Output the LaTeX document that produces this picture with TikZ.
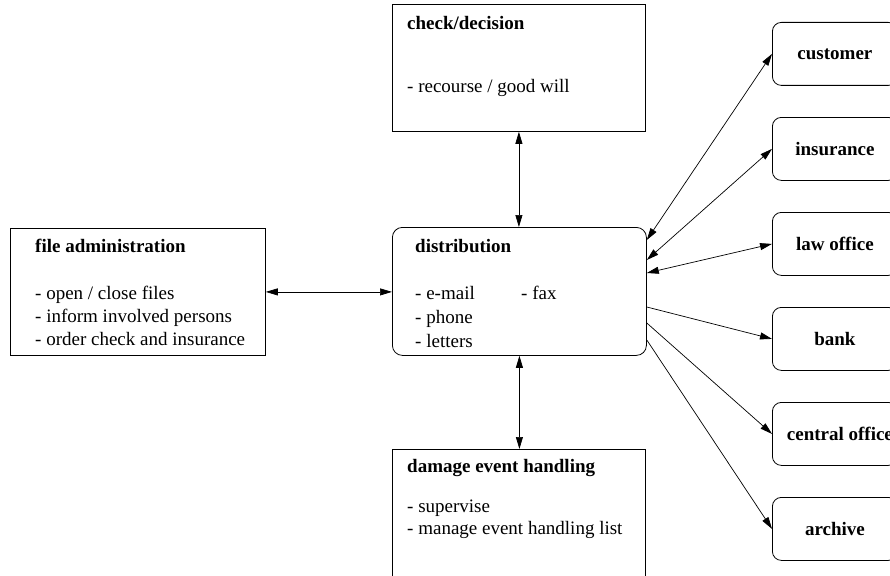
\documentclass[tikz,border=0pt]{standalone}
\usepackage{fontspec}
\setmainfont{Liberation Serif}
\usetikzlibrary{arrows.meta,calc}
\begin{document}
\begin{tikzpicture}[x=1pt,y=-1pt,
  box/.style={draw, line width=0.8pt, inner sep=0pt, anchor=north west},
  rbox/.style={box, rounded corners=10pt},
  dest/.style={draw, line width=0.8pt, rounded corners=9pt, minimum width=125pt,
    minimum height=63pt, inner sep=0pt, anchor=north west,
    font=\fontsize{19}{22}\selectfont\bfseries},
  ttl/.style={anchor=base west, inner sep=0pt, font=\fontsize{19}{22}\selectfont\bfseries},
  itm/.style={anchor=base west, inner sep=0pt, font=\fontsize{19}{22}\selectfont},
  tip/.tip={Triangle[length=12pt,width=7pt]},
  link/.style={line width=0.7pt, -tip},
  both/.style={line width=0.7pt, tip-tip},
]
\path[use as bounding box] (0,0) rectangle (890,575);
\clip (0,0) rectangle (890,575);

% main boxes
\node[box, minimum width=255pt, minimum height=127pt] (fa) at (10,228) {};
\node[rbox, minimum width=254pt, minimum height=128pt] (dist) at (392,227) {};
\node[box, minimum width=253pt, minimum height=127pt] (chk) at (392,4) {};
\node[box, minimum width=253pt, minimum height=170pt] (dmg) at (392,449) {};

% file administration
\node[ttl] (fat) at (35,252) {file administration};
\node[itm] (fa1) at (35,299) {- open / close files};
\node[itm] (fa2) at (35,322) {- inform involved persons};
\node[itm] (fa3) at (35,345) {- order check and insurance};

% distribution
\node[ttl] (dt) at (415,252) {distribution};
\node[itm] (d1) at (415,299) {- e-mail};
\node[itm] (d2) at (521,299) {- fax};
\node[itm] (d3) at (415,323) {- phone};
\node[itm] (d4) at (415,347) {- letters};

% check/decision
\node[ttl] (ct) at (407,30) {check/decision};
\node[itm] (c1) at (407,93) {- recourse / good will};

% damage event handling
\node[ttl] (dmt) at (407,472) {damage event handling};
\node[itm] (dm1) at (407,512) {- supervise};
\node[itm] (dm2) at (407,534) {- manage event handling list};

% partners
\node[dest] (cust) at (772,22)  {customer};
\node[dest] (ins)  at (772,117) {insurance};
\node[dest] (law)  at (772,212) {law office};
\node[dest] (bank) at (772,307) {bank};
\node[dest] (cen)  at (772,402) {\hspace*{10pt}central office};
\node[dest] (arc)  at (772,497) {archive};

% connectors
\draw[both] (fa.east) -- (fa.east -| dist.west);
\draw[both] (chk.south) -- (chk.south |- dist.north);
\draw[both] (dist.south) -- (dist.south |- dmg.north);

\draw[both] ([yshift=-13pt]dist.north east) -- (cust.west);
\draw[both] ([yshift=-33pt]dist.north east) -- (ins.west);
\draw[both] ([yshift=-46pt]dist.north east) -- (law.west);
\draw[link] ([yshift=-80pt]dist.north east) -- (bank.west);
\draw[link] ([yshift=-96pt]dist.north east) -- (cen.west);
\draw[link] ([yshift=-113pt]dist.north east) -- (arc.west);
\end{tikzpicture}
\end{document}
